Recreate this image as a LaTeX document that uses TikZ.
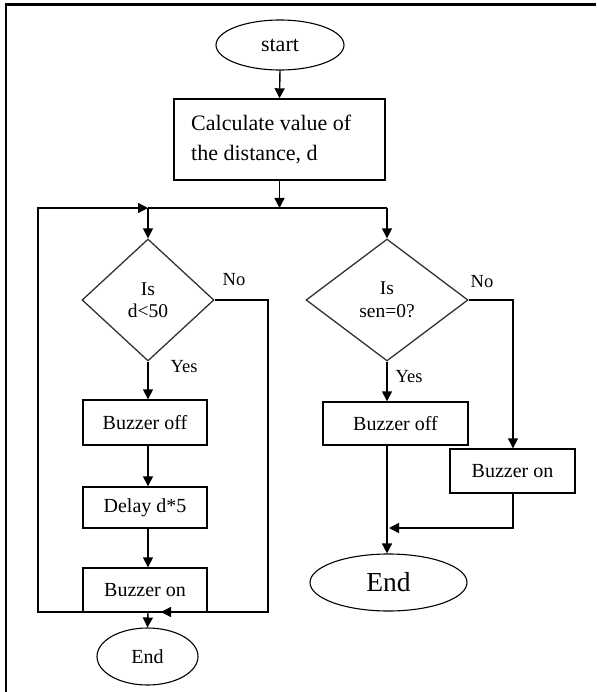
\documentclass[tikz,border=0pt]{standalone}
\usepackage{fontspec}
\setmainfont{Liberation Serif}
\usetikzlibrary{shapes.geometric,arrows.meta}

\newcommand{\fs}[1]{\fontsize{#1}{#1}\selectfont}

\tikzset{
  flow/.style={line width=1.4pt, draw=black},
  arr/.style={flow, -{Triangle[length=10pt,width=10pt]}},
  procbox/.style={draw=black, line width=1.4pt, rectangle, inner sep=0pt,
                  font=\fs{20}},
  term/.style={draw=black, line width=1.1pt, ellipse, inner sep=0pt},
  decide/.style={draw=black!80, line width=1.3pt, diamond, inner sep=0pt,
                 align=center, font=\fs{19.5}},
  lbl/.style={font=\fs{18.5}, inner sep=0pt}
}

\begin{document}
\begin{tikzpicture}[x=1pt,y=-1pt]
  \useasboundingbox (0,0) rectangle (596,692);

  % outer frame (top and left edges)
  \draw[line width=2.8pt] (6,692) -- (6,4.5) -- (596,4.5);

  % nodes
  \node[term, minimum width=128pt, minimum height=50pt, font=\fs{22}]
        (start) at (280,45) {start};
  \node[procbox, minimum width=211pt, minimum height=81pt] (calc) at (279.5,139.5) {};
  \node[anchor=west, align=left, font=\fontsize{22}{30}\selectfont, inner sep=0pt]
        (calctext) at (191,139) {Calculate value of\\the distance, d};

  \coordinate (jl) at (148,208);
  \coordinate (jr) at (387,208);

  \node[decide, minimum width=132pt, minimum height=122pt]
        (d1) at (148,300) {Is\\[3pt]d<50};
  \node[decide, minimum width=162pt, minimum height=122pt]
        (d2) at (387,300) {Is\\[3pt]sen=0?};

  \node[procbox, minimum width=124pt, minimum height=45pt] (boff1) at (145,422.5) {Buzzer off};
  \node[procbox, minimum width=124pt, minimum height=41pt] (delay) at (145,507.5) {Delay d*5};
  \node[procbox, minimum width=124pt, minimum height=44pt] (bon1)  at (145,590) {Buzzer on};
  \node[term, minimum width=101pt, minimum height=57pt, font=\fs{20}]
        (end1) at (147.5,656.5) {End};

  \node[procbox, minimum width=145pt, minimum height=43pt] (boff2) at (395.5,423.5) {Buzzer off};
  \node[procbox, minimum width=125pt, minimum height=44pt] (bon2)  at (512.5,471) {Buzzer on};
  \node[term, minimum width=157pt, minimum height=57pt, font=\fs{27.5}]
        (end2) at (388.5,582.5) {End};

  % branch labels
  \node[lbl] (no1)  at (234,280) {No};
  \node[lbl] (yes1) at (184,367) {Yes};
  \node[lbl] (no2)  at (482,282) {No};
  \node[lbl] (yes2) at (409,377) {Yes};

  % loop and merge points
  \coordinate (noL)   at (268,300);
  \coordinate (noLb)  at (268,612);
  \coordinate (merge) at (161,612);
  \coordinate (loopB) at (38,612);
  \coordinate (loopT) at (38,208);
  \coordinate (noR)   at (513,300);
  \coordinate (onR)   at (513,528);
  \coordinate (mergeR) at (389,528);

  % main trunk
  \draw[arr] (start.south) -- (calc.north);
  \draw[arr] (calc.south) -- (calc.south |- jl);
  \draw[flow] (jl) -- (jr);
  \draw[arr] (jl) -- (d1.north);
  \draw[arr] (jr) -- (d2.north);

  % left column
  \draw[arr] (d1.south) -- (d1.south |- boff1.north);
  \draw[arr] (d1.south |- boff1.south) -- (d1.south |- delay.north);
  \draw[arr] (d1.south |- delay.south) -- (d1.south |- bon1.north);
  \draw[arr] (d1.south |- bon1.south) -- (end1.north);
  \draw[arr] (d1.east) -- (noL) -- (noLb) -- (merge);
  \draw[arr] (merge) -- (loopB) -- (loopT) -- (jl);

  % right column
  \draw[arr] (d2.south) -- (d2.south |- boff2.north);
  \draw[arr] (d2.east) -- (noR) -- (noR |- bon2.north);
  \draw[arr] (d2.south |- boff2.south) -- (d2.south |- end2.north);
  \draw[arr] (noR |- bon2.south) -- (onR) -- (mergeR);
\end{tikzpicture}
\end{document}
